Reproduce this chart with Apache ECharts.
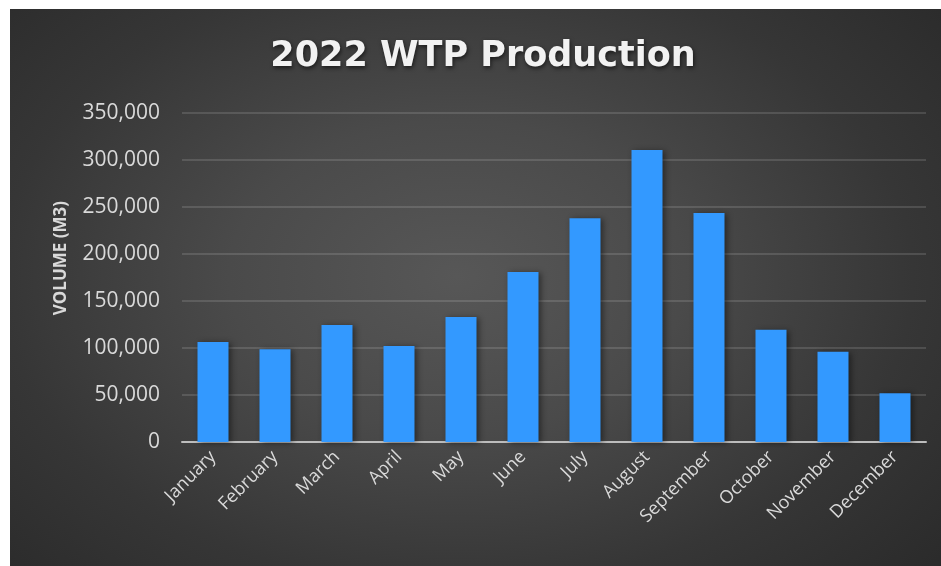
<!DOCTYPE html>
<html>
<head>
<meta charset="utf-8">
<script src="https://cdn.jsdelivr.net/npm/echarts@6/dist/echarts.min.js"></script>
<style>
  html, body { margin: 0; padding: 0; background: #ffffff; }
  #frame { position: absolute; left: 10px; top: 9px; width: 931px; height: 557px;
           background: radial-gradient(ellipse 70% 80% at 48% 48%, #575757 0%, #4a4a4a 35%, #363636 70%, #2a2a2a 100%); }
  #chart { width: 100%; height: 100%; }
</style>
</head>
<body>
<div id="frame"><div id="chart"></div></div>
<script>
// Monthly water treatment plant output for 2022, cubic metres
const months = ['January', 'February', 'March', 'April', 'May', 'June',
                'July', 'August', 'September', 'October', 'November', 'December'];
const volumes = [106400, 98600, 124500, 102100, 133000, 180800,
                 238000, 310600, 243600, 119500, 96100, 51800];
const yTicks = [0, 50000, 100000, 150000, 200000, 250000, 300000, 350000];

const FONT = '"Open Sans", sans-serif';
const chart = echarts.init(document.getElementById('chart'));

chart.setOption({
  backgroundColor: 'transparent',
  title: {
    text: '2022 WTP Production',
    left: 468,
    textAlign: 'center',
    top: 25,
    textStyle: {
      fontFamily: '"DejaVu Sans", sans-serif',
      fontWeight: 'bold',
      fontSize: 35,
      color: '#f2f2f2',
      textShadowColor: 'rgba(0,0,0,0.6)',
      textShadowBlur: 4,
      textShadowOffsetX: 1,
      textShadowOffsetY: 2
    }
  },
  graphic: [{
    type: 'text',
    left: 43,
    top: 192,
    rotation: Math.PI / 2,
    style: {
      text: 'VOLUME (M3)',
      fill: '#d9d9d9',
      font: 'bold 17px "Open Sans", sans-serif'
    }
  }],
  grid: { left: 172, right: 15, top: 104, bottom: 124 },
  xAxis: {
    type: 'category',
    data: months,
    axisLine: { lineStyle: { color: '#bdbdbd', width: 2 } },
    axisTick: { show: false },
    axisLabel: {
      rotate: 45,
      interval: 0,
      margin: 12,
      color: '#d9d9d9',
      fontFamily: FONT,
      fontSize: 18
    }
  },
  yAxis: {
    type: 'value',
    min: yTicks[0],
    max: yTicks[yTicks.length - 1],
    interval: yTicks[1] - yTicks[0],
    axisLine: { show: false },
    axisTick: { show: false },
    axisLabel: {
      color: '#d9d9d9',
      fontFamily: FONT,
      fontSize: 21,
      margin: 22,
      formatter: v => v.toLocaleString('en-US')
    },
    splitLine: { lineStyle: { color: 'rgba(255,255,255,0.13)', width: 2 } }
  },
  series: [{
    type: 'bar',
    data: volumes,
    barWidth: '50%',
    itemStyle: {
      color: '#3399ff',
      shadowColor: 'rgba(0,0,0,0.45)',
      shadowBlur: 6,
      shadowOffsetX: 2,
      shadowOffsetY: 1
    }
  }]
});
</script>
</body>
</html>
